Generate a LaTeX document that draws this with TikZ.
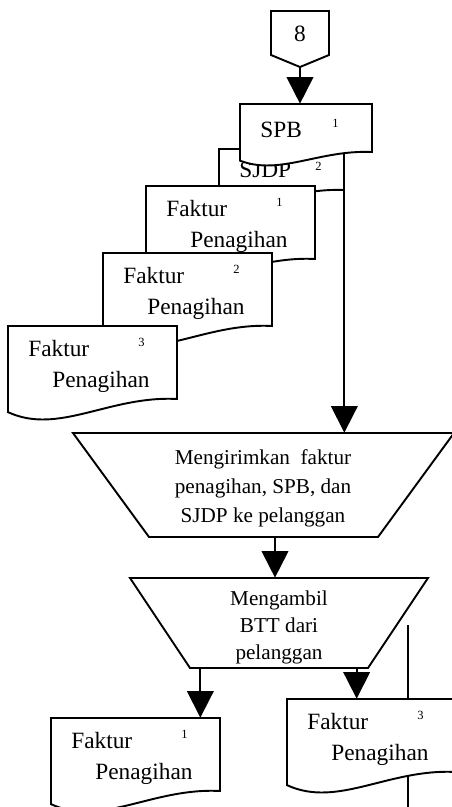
\documentclass[tikz,border=0pt]{standalone}
\usepackage{fontspec}
\setmainfont{Liberation Serif}
\usetikzlibrary{arrows.meta, fit}

\tikzset{
  garis/.style={line width=1.15pt},
  dokline/.style={garis, fill=white},
  panah/.style={garis, -{Triangle[length=16pt,width=16pt]}},
  teks/.style={font=\fontsize{14}{17}\selectfont, inner sep=0pt, anchor=base west},
  nomor/.style={font=\fontsize{7.5}{8}\selectfont, inner sep=0pt, anchor=base west},
  proses/.style={font=\fontsize{12.7}{17.4}\selectfont, align=center, inner sep=0pt},
  kotak/.style={inner sep=0pt},
}

% dokumen: nama, kiri, atas, lebar, tinggi
\newcommand{\dokumen}[5]{%
  \draw[dokline] (#2,#3) -- ({#2+#4},#3) -- ({#2+#4},{#3+#5})
    .. controls ({#2+0.6*#4},{#3+0.95*#5}) and ({#2+0.3*#4},{#3+1.5*#5})
    .. (#2,{#3+1.18*#5}) -- cycle;
  \coordinate (#1-kiri) at (#2,#3);
  \coordinate (#1-kanan) at ({#2+#4},{#3+#5});
  \node[kotak, fit=(#1-kiri)(#1-kanan)] (#1) {};
}
% faktur penagihan: nama, kiri, atas, nomor
\newcommand{\faktur}[4]{%
  \dokumen{#1}{#2}{#3}{169}{73}
  \node[teks] (#1-a) at ({#2+20},{#3+30}) {Faktur};
  \node[teks] (#1-b) at ({#2+44},{#3+61}) {Penagihan};
  \node[nomor] (#1-n) at ({#2+130},{#3+20}) {#4};
}

\begin{document}
\begin{tikzpicture}[x=0.6pt, y=-0.6pt]
\useasboundingbox (0,0) rectangle (452,807);
\clip (0,0) rectangle (452,807);

% konektor halaman
\draw[garis] (271,11) -- (329,11) -- (329,55) -- (300,67) -- (271,55) -- cycle;
\coordinate (k-kiri) at (271,11);
\coordinate (k-kanan) at (329,67);
\node[kotak, fit=(k-kiri)(k-kanan)] (konektor) {};
\node[font=\fontsize{14}{17}\selectfont] (k-nr) at (300,33.5) {8};

% tumpukan dokumen
\dokumen{sjdp}{219}{149}{125}{41}
\node[teks] (sjdp-a) at (239,177) {SJDP};
\node[nomor] (sjdp-n) at (315,170) {2};
\dokumen{spb}{240}{104}{132}{48}
\node[teks] (spb-a) at (260,137) {SPB};
\node[nomor] (spb-n) at (332,127) {1};

\draw[panah] (konektor.south) -- (konektor.south |- spb.north);

\faktur{fa}{146}{186}{1}
\faktur{fb}{103}{253}{2}
\faktur{fc}{8}{326}{3}

% proses manual
\draw[garis] (73,433) -- (454,433) -- (378,537) -- (149,537) -- cycle;
\coordinate (t1-kiri) at (73,433);
\coordinate (t1-kanan) at (454,537);
\node[kotak, fit=(t1-kiri)(t1-kanan)] (kirim) {};
\node[proses] (kirim-teks) at (263,488)
  {Mengirimkan\ \ faktur\\penagihan, SPB, dan\\SJDP ke pelanggan};

\draw[garis] (130,578) -- (428,578) -- (368,668) -- (190,668) -- cycle;
\coordinate (t2-kiri) at (130,578);
\coordinate (t2-kanan) at (428,668);
\node[kotak, fit=(t2-kiri)(t2-kanan)] (ambil) {};
\node[proses, font=\fontsize{12.7}{16.2}\selectfont] (ambil-teks) at (279,627)
  {Mengambil\\BTT dari\\pelanggan};

\draw[panah] (sjdp.south east) -- (sjdp.south east |- kirim.north);
\draw[panah] ([xshift=-2.4pt]ambil.north |- kirim.south) -- ([xshift=-2.4pt]ambil.north);

% garis lanjutan
\coordinate (lanjut-a) at (408,625);
\coordinate (lanjut-b) at (408,812);
\draw[garis] (lanjut-a) -- (lanjut-b);

\faktur{fd}{51}{718}{1}
\faktur{fe}{287}{699}{3}

\draw[panah] ([xshift=-12pt]fd.north east |- ambil.south) -- ([xshift=-12pt]fd.north east);
\draw[panah] ([xshift=42pt]fe.north west |- ambil.south) -- ([xshift=42pt]fe.north west);
\end{tikzpicture}
\end{document}
